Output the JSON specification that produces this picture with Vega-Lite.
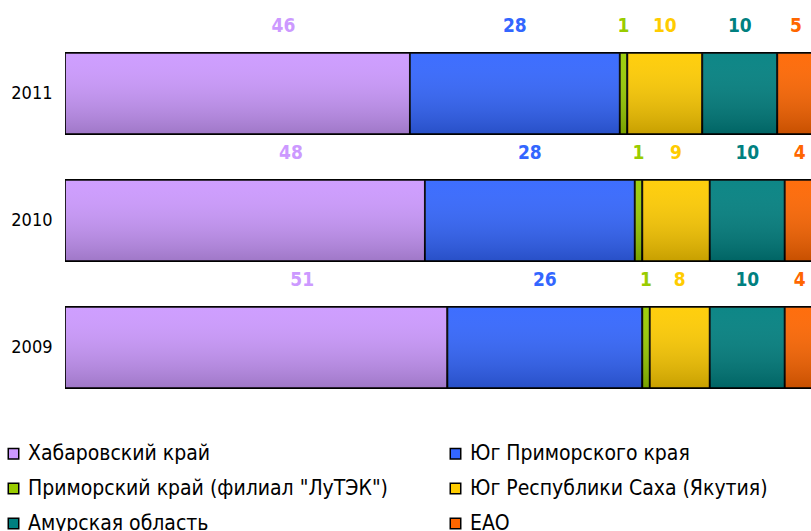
{
  "$schema": "https://vega.github.io/schema/vega-lite/v6.json",
  "width": 746,
  "height": 381,
  "autosize": {"type": "none"},
  "padding": {"top": 30, "left": 65, "right": 0, "bottom": 120},
  "background": "white",
  "config": {
    "view": {"stroke": null},
    "font": "Liberation Sans Narrow, DejaVu Sans Condensed, sans-serif"
  },
  "data": {
    "values": [
      {"year": "2011", "region": "Хабаровский край", "k": 1, "value": 46},
      {"year": "2011", "region": "Юг Приморского края", "k": 2, "value": 28},
      {"year": "2011", "region": "Приморский край (филиал \"ЛуТЭК\")", "k": 3, "value": 1},
      {"year": "2011", "region": "Юг Республики Саха (Якутия)", "k": 4, "value": 10},
      {"year": "2011", "region": "Амурская область", "k": 5, "value": 10},
      {"year": "2011", "region": "ЕАО", "k": 6, "value": 5},
      {"year": "2010", "region": "Хабаровский край", "k": 1, "value": 48},
      {"year": "2010", "region": "Юг Приморского края", "k": 2, "value": 28},
      {"year": "2010", "region": "Приморский край (филиал \"ЛуТЭК\")", "k": 3, "value": 1},
      {"year": "2010", "region": "Юг Республики Саха (Якутия)", "k": 4, "value": 9},
      {"year": "2010", "region": "Амурская область", "k": 5, "value": 10},
      {"year": "2010", "region": "ЕАО", "k": 6, "value": 4},
      {"year": "2009", "region": "Хабаровский край", "k": 1, "value": 51},
      {"year": "2009", "region": "Юг Приморского края", "k": 2, "value": 26},
      {"year": "2009", "region": "Приморский край (филиал \"ЛуТЭК\")", "k": 3, "value": 1},
      {"year": "2009", "region": "Юг Республики Саха (Якутия)", "k": 4, "value": 8},
      {"year": "2009", "region": "Амурская область", "k": 5, "value": 10},
      {"year": "2009", "region": "ЕАО", "k": 6, "value": 4}
    ]
  },
  "transform": [
    {"stack": "value", "groupby": ["year"], "sort": [{"field": "k", "order": "ascending"}], "as": ["x0", "x1"]},
    {"calculate": "(datum.x0 + datum.x1) / 2", "as": "mid"}
  ],
  "encoding": {
    "y": {
      "field": "year", "type": "nominal",
      "sort": ["2011", "2010", "2009"],
      "scale": {"paddingInner": 0.36, "paddingOuter": 0.18},
      "axis": {"title": null, "domain": false, "ticks": false, "labelFontSize": 18, "labelColor": "#000000", "labelPadding": 13, "labelFont": "Liberation Sans Narrow, DejaVu Sans Condensed, sans-serif"}
    }
  },
  "layer": [
    {
      "mark": {"type": "bar", "stroke": "#000000", "strokeWidth": 1.8, "clip": true, "opacity": 1},
      "encoding": {
        "x": {"field": "x0", "type": "quantitative", "scale": {"domain": [0, 99.5], "nice": false}, "axis": null},
        "x2": {"field": "x1"},
        "color": {
          "field": "region", "type": "nominal",
          "scale": {
            "domain": ["Хабаровский край", "Юг Приморского края", "Приморский край (филиал \"ЛуТЭК\")", "Юг Республики Саха (Якутия)", "Амурская область", "ЕАО"],
            "range": ["#CC99FF", "#3366FF", "#99CC00", "#FFCC00", "#008080", "#FF6600"]
          },
          "legend": {
            "title": null, "orient": "none", "legendX": -62, "legendY": 413,
            "direction": "horizontal",
            "columns": 2, "columnPadding": 57, "rowPadding": 13,
            "symbolType": "square", "symbolSize": 110, "symbolStrokeColor": "#000000", "symbolStrokeWidth": 1.5,
            "labelFontSize": 21, "labelColor": "#000000", "labelLimit": 0, "labelOffset": 4,
            "labelFont": "Liberation Sans Narrow, DejaVu Sans Condensed, sans-serif"
          }
        }
      }
    },
    {
      "mark": {"type": "bar", "clip": true, "color": {"gradient": "linear", "x1": 0, "y1": 0, "x2": 0, "y2": 1, "stops": [{"offset": 0, "color": "rgba(255,255,255,0.05)"}, {"offset": 1, "color": "rgba(0,0,0,0.22)"}]}},
      "encoding": {
        "x": {"field": "x0", "type": "quantitative"},
        "x2": {"field": "x1"}
      }
    },
    {
      "transform": [{"filter": "datum.k == 1"}],
      "mark": {"type": "text", "dy": -68, "dx": 46, "fontSize": 19, "fontWeight": "bold"},
      "encoding": {
        "x": {"field": "mid", "type": "quantitative"},
        "text": {"field": "value", "type": "quantitative"},
        "color": {"field": "region", "type": "nominal", "legend": null}
      }
    },
    {
      "transform": [{"filter": "datum.k > 1"}],
      "mark": {"type": "text", "dy": -68, "fontSize": 19, "fontWeight": "bold"},
      "encoding": {
        "x": {"field": "mid", "type": "quantitative"},
        "text": {"field": "value", "type": "quantitative"},
        "color": {"field": "region", "type": "nominal", "legend": null}
      }
    }
  ]
}
